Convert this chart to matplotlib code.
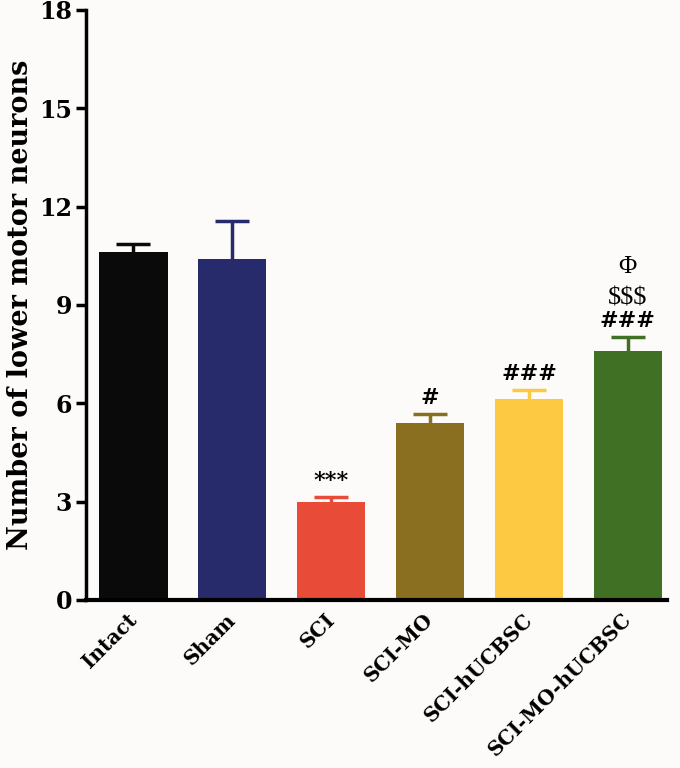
import matplotlib.pyplot as plt
import numpy as np

groups = ['Intact', 'Sham', 'SCI', 'SCI-MO', 'SCI-hUCBSC', 'SCI-MO-hUCBSC']
means = [10.6, 10.4, 3.0, 5.4, 6.12, 7.6]
errs = [0.27, 1.15, 0.15, 0.28, 0.28, 0.42]
colors = ['#0a0a0a', '#272a6b', '#e84c38', '#8a6f20', '#fdc842', '#3f7024']
marks = ['', '', '***', '#', '###', '###']
yticks = [0, 3, 6, 9, 12, 15, 18]

plt.rcParams['font.family'] = 'DejaVu Serif'

fig = plt.figure(figsize=(6.8, 7.68), dpi=100, facecolor='#fcfbfa')
ax = fig.add_axes([0.1265, 0.219, 0.855, 0.768])
ax.set_facecolor('#fcfbfa')

x = np.arange(len(groups))
ax.bar(x, means, width=0.69, color=colors, zorder=2)
for xi, m, e, c in zip(x, means, errs, colors):
    eb = ax.errorbar(xi, m, yerr=[[0], [e]], ecolor=c, elinewidth=2.5,
                     capsize=12, capthick=2.5, fmt='none', zorder=1)
    # keep only the upper cap
    eb[1][0].set_visible(False)

for xi, m, e, s in zip(x, means, errs, marks):
    if s:
        ax.text(xi, m + e + 0.15, s, ha='center', va='bottom',
                fontsize=16, fontweight='bold')
ax.text(x[5], means[5] + errs[5] + 0.85, '$$$', ha='center', va='bottom',
        fontsize=19, family='Liberation Serif')
ax.text(x[5], means[5] + errs[5] + 1.8, '\u03a6', ha='center', va='bottom',
        fontsize=18, family='Liberation Serif')

ax.set_xlim(-0.48, 5.4)
ax.set_ylim(0, 18)
ax.set_yticks(yticks)
ax.set_yticklabels([str(t) for t in yticks], fontsize=17, fontweight='bold')
ax.set_xticks(x)
ax.set_xticklabels(groups, rotation=45, ha='right', va='center',
                   rotation_mode='anchor', fontsize=14.5, fontweight='bold')
ax.tick_params(axis='x', length=0, pad=12)
ax.tick_params(axis='y', length=7, width=2.5, direction='out', pad=3)
ax.spines['top'].set_visible(False)
ax.spines['right'].set_visible(False)
ax.spines['left'].set_linewidth(2.5)
ax.spines['bottom'].set_linewidth(3)
ax.set_ylabel('Number of lower motor neurons', fontsize=19.5, fontweight='bold', labelpad=4)

plt.savefig('out.png', dpi=100, facecolor='#fcfbfa')
